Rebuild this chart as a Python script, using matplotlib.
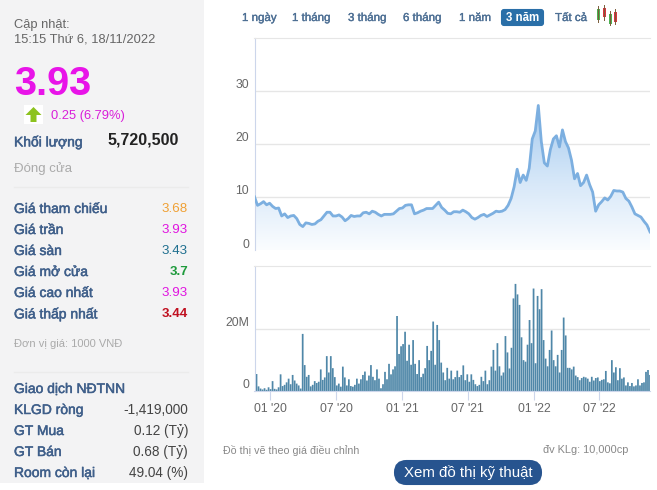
import matplotlib
matplotlib.use("Agg")
import matplotlib.dates as mdates
import matplotlib.patheffects as pe
import matplotlib.pyplot as plt
import numpy as np
import pandas as pd
from matplotlib.colors import LinearSegmentedColormap
from matplotlib.patches import FancyArrow, FancyBboxPatch, Rectangle

plt.rcParams["font.family"] = ["Liberation Sans", "DejaVu Sans"]

START = "2019-11-18"
END = "2022-11-18"

price = [
    10.1, 8.5, 8.8, 9.2, 8.6, 8.9, 8.3, 7.9, 8.0, 6.5, 6.9, 6.2, 6.5, 6.6, 6.0, 4.9,
    4.5, 5.2, 5.1, 4.9, 5.0, 5.5, 5.8, 6.5, 7.2, 7.2, 6.5, 6.5, 6.7, 6.3, 5.6, 6.0,
    6.6, 6.4, 6.5, 6.5, 7.1, 7.2, 6.9, 7.4, 7.2, 6.8, 6.5, 6.8, 6.8, 6.8, 6.9, 7.4,
    7.9, 8.0, 8.5, 8.6, 8.6, 6.9, 7.1, 7.4, 7.6, 7.9, 7.9, 7.9, 8.5, 9.1, 8.1, 7.6,
    7.0, 6.9, 7.3, 7.3, 7.2, 7.6, 7.3, 6.9, 6.2, 5.9, 6.2, 6.6, 6.8, 6.4, 6.7, 7.0,
    7.4, 7.3, 7.4, 7.7, 8.5, 9.8, 12.0, 15.3, 12.8, 14.2, 13.2, 15.5, 21.0, 22.5, 27.3, 20.5,
    16.5, 15.9, 19.0, 21.0, 21.6, 19.5, 22.7, 20.5, 19.3, 17.0, 13.5, 14.5, 12.2, 12.8, 14.2, 12.4,
    11.0, 7.4, 8.6, 9.2, 9.9, 9.5, 10.2, 11.3, 11.2, 11.2, 11.0, 9.8, 9.3, 8.2, 6.9, 6.6,
    6.3, 5.5, 4.8, 3.5,
]

volume_m = [
    1.0, 5.5, 1.5, 0.8, 0.5, 0.9, 0.4, 1.2, 0.6, 3.2, 0.7, 0.5, 1.2, 5.4, 1.6, 2.0,
    2.8, 4.0, 2.2, 5.2, 3.4, 2.4, 1.8, 0.8, 18.5, 8.4, 4.6, 5.2, 1.5, 2.0, 3.2, 2.6,
    3.0, 7.0, 3.6, 4.4, 11.3, 6.0, 11.3, 7.4, 4.5, 1.8, 2.4, 1.4, 7.9, 4.4, 1.8, 3.8,
    1.6, 1.4, 2.0, 4.0, 2.4, 3.8, 5.2, 6.3, 3.4, 5.0, 8.4, 4.6, 3.5, 7.0, 4.0, 0.9,
    2.2, 6.2, 3.8, 8.8, 5.4, 7.0, 8.0, 24.3, 12.0, 14.5, 15.2, 19.2, 9.8, 15.0, 8.5, 16.5,
    8.8, 5.5, 10.0, 4.5, 5.6, 7.4, 14.6, 10.0, 13.0, 22.5, 8.5, 21.4, 16.5, 9.2, 6.0, 3.5,
    7.5, 4.0, 6.6, 3.8, 4.5, 6.6, 4.5, 5.2, 8.3, 3.5, 5.4, 3.0, 5.4, 3.6, 2.2, 1.6,
    2.0, 4.6, 3.2, 6.6, 2.2, 3.5, 7.9, 13.3, 6.6, 15.5, 8.0, 5.0, 6.0, 17.8, 12.5, 7.3,
    14.0, 30.0, 34.7, 31.3, 27.9, 17.4, 10.0, 9.5, 15.0, 23.0, 15.5, 33.2, 9.0, 30.8, 26.5, 33.0,
    16.5, 10.5, 8.0, 13.3, 19.6, 10.0, 8.0, 11.7, 6.0, 13.3, 23.8, 18.0, 7.5, 7.5, 7.0, 7.9,
    5.0, 4.5, 3.5, 4.2, 4.6, 4.4, 4.0, 3.0, 4.6, 3.4, 4.2, 4.4, 3.2, 3.6, 3.8, 6.5,
    2.8, 2.5, 10.0, 6.0, 7.7, 3.5, 7.4, 4.0, 4.4, 1.8, 2.8, 1.6, 2.6, 1.5, 1.8, 3.8,
    1.8, 2.6, 2.8, 6.2, 6.8, 5.2,
]

price_ticks = [0, 10, 20, 30]
volume_ticks = [0, 20]
volume_tick_labels = ["0", "20M"]
date_ticks = ["2020-01-01", "2020-07-01", "2021-01-01", "2021-07-01", "2022-01-01", "2022-07-01"]
date_labels = ["01 '20", "07 '20", "01 '21", "07 '21", "01 '22", "07 '22"]

tabs = ["1 ngày", "1 tháng", "3 tháng", "6 tháng", "1 năm", "3 năm", "Tất cả"]
tab_x = [242, 292, 348, 403, 459, 506, 555]

quote_labels = ["Giá tham chiếu", "Giá trần", "Giá sàn", "Giá mở cửa", "Giá cao nhất", "Giá thấp nhất"]
quote_values = ["3.68", "3.93", "3.43", "3.7", "3.93", "3.44"]
quote_colors = ["#f0a033", "#e014e0", "#1f6f8f", "#1e9a3c", "#e014e0", "#c01020"]

foreign_labels = ["Giao dịch NĐTNN", "KLGD ròng", "GT Mua", "GT Bán", "Room còn lại"]
foreign_values = ["", "-1,419,000", "0.12 (Tỷ)", "0.68 (Tỷ)", "49.04 (%)"]

LABEL = "#3f5f8a"
GRID = "#e6e6e6"
AXIS = "#ccd6eb"
TICK = "#666666"
W, H = 657, 490
SEMI = [pe.withStroke(linewidth=0.35, foreground=LABEL)]


def px_axes(fig, left, top, right, bottom):
    return fig.add_axes([left / W, 1 - bottom / H, (right - left) / W, (bottom - top) / H])


def style_chart(ax):
    for side in ["right", "bottom"]:
        ax.spines[side].set_visible(False)
    ax.spines["top"].set_color(GRID)
    ax.spines["left"].set_color(AXIS)
    ax.grid(axis="y", color=GRID, lw=1)
    ax.set_axisbelow(True)
    ax.tick_params(axis="y", length=0, pad=4, labelsize=8.8, labelcolor=TICK)
    for lab in ax.get_yticklabels():
        lab.set_va("bottom")
    ax.set_xlim(pd.Timestamp(START), pd.Timestamp(END))


fig = plt.figure(figsize=(W / 100, H / 100), dpi=100)

# lop nen + chu, toa do theo pixel
page = fig.add_axes([0, 0, 1, 1])
page.set_xlim(0, W)
page.set_ylim(H, 0)
page.axis("off")


def side_text(x, y, s, **kw):
    # cot trai: chu dat thap hon 3px so voi tam
    return page.text(x, y + 3, s, va="center", **kw)


page.add_patch(Rectangle((0, 0), 204, 483, color="#f3f3f4", lw=0))
page.plot([14, 188], [187, 187], color="#ebebeb", lw=1)
page.plot([14, 188], [372, 372], color="#ebebeb", lw=1)

side_text(14, 22, "Cập nhật:", fontsize=9.3, color="#666666")
side_text(14, 36, "15:15 Thứ 6, 18/11/2022", fontsize=9.3, color="#666666")
side_text(14, 81, "3.93", fontsize=28.5, fontweight="bold", color="#e814e8")
page.add_patch(Rectangle((24, 105), 19, 19, color="#ffffff", lw=0))
page.add_patch(FancyArrow(33.5, 122, 0, -15, width=6, head_width=16, head_length=8,
                          length_includes_head=True, color="#8cc21e", lw=0))
side_text(51, 113, "0.25 (6.79%)", fontsize=9.3, color="#d91ed9")
side_text(14, 139, "Khối lượng", fontsize=10, color=LABEL, path_effects=SEMI)
side_text(179, 137, "5,720,500", fontsize=11.5, fontweight="bold", color="#222222", ha="right")
side_text(14, 166, "Đóng cửa", fontsize=9.5, color="#aaaaaa")

for i, (lab, val, col) in enumerate(zip(quote_labels, quote_values, quote_colors)):
    y = 206 + i * 21
    side_text(14, y, lab, fontsize=10, color=LABEL, path_effects=SEMI)
    side_text(188, y, val, fontsize=9.6, color=col, ha="right",
              fontweight="bold" if val in ("3.7", "3.44") else "normal")

side_text(14, 341, "Đơn vị giá: 1000 VNĐ", fontsize=8, color="#aaaaaa")

for i, (lab, val) in enumerate(zip(foreign_labels, foreign_values)):
    y = 386 + i * 21
    side_text(14, y, lab, fontsize=10, color=LABEL, path_effects=SEMI)
    side_text(188, y, val, fontsize=9.8, color="#444444", ha="right")

# tabs
page.add_patch(FancyBboxPatch((502, 10), 41, 15, boxstyle="round,pad=0,rounding_size=2",
                              color="#2a6fa8", lw=1.5))
for name, x in zip(tabs, tab_x):
    active = name == "3 năm"
    page.text(x, 18, name, fontsize=8.3, va="center",
              color="#ffffff" if active else "#4d6f94",
              fontweight="bold" if active else "normal",
              path_effects=[pe.withStroke(linewidth=0.25, foreground="#4d6f94")] if not active else None)

# icon nen
for x, top, bot, wick_top, wick_bot, col in [
    (598, 9, 20, 6, 22, "#4caf50"), (604, 8, 17, 5, 20, "#d9333f"),
    (610, 14, 24, 11, 25, "#4caf50"), (615, 12, 22, 9, 24, "#d9333f"),
]:
    page.plot([x, x], [wick_top, wick_bot], color="#7a5c3a", lw=0.7)
    page.add_patch(Rectangle((x - 1.5, top), 3, bot - top, color=col, lw=0))

page.text(223, 450, "Đồ thị vẽ theo giá điều chỉnh", fontsize=7.7, color="#888888", va="center")
page.text(543, 450, "đv KLg: 10,000cp", fontsize=7.9, color="#888888", va="center")
page.add_patch(FancyBboxPatch((395, 461), 146, 23, boxstyle="round,pad=0,rounding_size=11.5",
                              color="#27548f", lw=1.5))
page.text(468, 472.5, "Xem đồ thị kỹ thuật", fontsize=10.8, color="#ffffff", va="center", ha="center")

# gia
ax = px_axes(fig, 254.5, 38, 650, 250.5)
ax.patch.set_alpha(0)
price_dates = pd.date_range(START, END, periods=len(price))
ax.set_ylim(0, 40)
ax.set_yticks(price_ticks)
ax.set_xticks([])
style_chart(ax)

fill = ax.fill_between(price_dates, price, 0, color="none", lw=0)
cmap = LinearSegmentedColormap.from_list("price_fill", ["#fbfdff", "#d4e6f8", "#a3c9ee"])
x0, x1 = mdates.date2num(pd.Timestamp(START)), mdates.date2num(pd.Timestamp(END))
grad = np.linspace(1, 0, 256).reshape(-1, 1)
im = ax.imshow(grad, extent=[x0, x1, 0, max(price)], aspect="auto", cmap=cmap, zorder=1.5)
im.set_clip_path(fill.get_paths()[0], transform=ax.transData)
ax.set_xlim(x0, x1)
ax.set_ylim(0, 40)
ax.plot(price_dates, price, color="#7cafe0", lw=2, zorder=3, solid_joinstyle="round")

# khoi luong
vax = px_axes(fig, 254.5, 266, 650, 391)
vax.patch.set_alpha(0)
volume_dates = pd.date_range(START, END, periods=len(volume_m))
bars = vax.bar(volume_dates, volume_m, width=4.8, color="#4f87a8", lw=0, zorder=2)
for bar in bars:
    bar.set_snap(False)
vax.set_ylim(0, 40.5)
vax.set_yticks(volume_ticks, volume_tick_labels)
style_chart(vax)
vax.spines["bottom"].set_visible(True)
vax.spines["bottom"].set_color(AXIS)
vax.set_xticks(pd.to_datetime(date_ticks), date_labels)
vax.tick_params(axis="x", length=6.5, color=AXIS, pad=2.2, labelsize=8.8, labelcolor=TICK)

fig.savefig("out.png", dpi=100)
